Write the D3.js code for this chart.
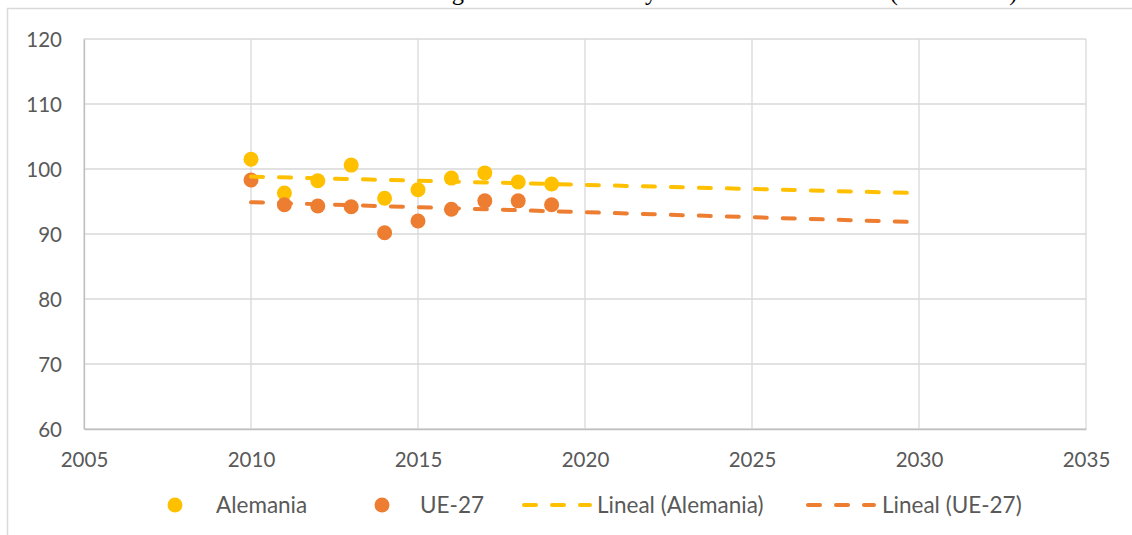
<!DOCTYPE html>
<html>
<head>
<meta charset="utf-8">
<script src="https://cdn.jsdelivr.net/npm/d3@7"></script>
<style>
    body { margin: 0; background: #fff; }
    svg { display: block; }
    text { font-family: Lato, "Open Sans", sans-serif; }
</style>
</head>
<body>
<svg id="chart"></svg>
<script>
// data
const years = [2010, 2011, 2012, 2013, 2014, 2015, 2016, 2017, 2018, 2019];
const alemania = [101.5, 96.3, 98.2, 100.6, 95.5, 96.8, 98.6, 99.4, 98.0, 97.7];
const ue27 = [98.3, 94.5, 94.3, 94.2, 90.2, 92.0, 93.8, 95.1, 95.1, 94.5];
const xTicks = [2005, 2010, 2015, 2020, 2025, 2030, 2035];
const yTicks = [60, 70, 80, 90, 100, 110, 120];
const trendEnd = 2029.7; // trend lines are extended forward to here
const seriesNames = ["Alemania", "UE-27"];
const trendNames = ["Lineal (Alemania)", "Lineal (UE-27)"];
const pageTitle = "Intensidad energética en Alemania y en el total de la UE-27 (2010 = 100)";

const config = {
    parent: "#chart",
    width: 1132,
    height: 535,
    margin: { top: 39, right: 46, bottom: 106, left: 84 },
    colors: ["#FFC000", "#ED7D31"]
};

// least squares line, same as the spreadsheet's linear trendline
function linearFit(xs, ys) {
    let mx = d3.mean(xs), my = d3.mean(ys);
    let sxy = d3.sum(xs, (x, i) => (x - mx) * (ys[i] - my));
    let sxx = d3.sum(xs, x => (x - mx) * (x - mx));
    let slope = sxy / sxx;
    return x => my + slope * (x - mx);
}

let svg = d3.select(config.parent)
    .attr("width", config.width)
    .attr("height", config.height);

let innerW = config.width - config.margin.left - config.margin.right;
let innerH = config.height - config.margin.top - config.margin.bottom;

let xScale = d3.scaleLinear()
    .domain([2005, 2035])
    .range([config.margin.left, config.margin.left + innerW]);
let yScale = d3.scaleLinear()
    .domain([60, 120])
    .range([config.margin.top + innerH, config.margin.top]);

// caption of the page above the chart, cut off by the top edge like in the original
let title = svg.append("text")
    .attr("x", 0)
    .attr("y", 0)
    .attr("fill", "#000")
    .style("font-family", "'Liberation Serif', serif")
    .attr("font-size", "22px")
    .text(pageTitle);
// fit it so the "g" and the closing ")" land where they show in the original
let gi = pageTitle.indexOf("g"), pi = pageTitle.lastIndexOf(")");
let node = title.node();
let gx0 = node.getStartPositionOfChar(gi).x;
let px0 = node.getEndPositionOfChar(pi).x;
let k = (1018 - 452) / (px0 - gx0);
title.attr("font-size", (22 * k) + "px")
    .attr("x", 452 - gx0 * k);

// chart frame (top and left edges visible)
svg.append("path")
    .attr("d", `M7.5,${config.height} V8.5 H${config.width}`)
    .attr("fill", "none")
    .attr("stroke", "#d9d9d9")
    .attr("stroke-width", 1.5);

// grid lines
let grid = svg.append("g");
grid.selectAll("line.h").data(yTicks)
    .enter().append("line")
    .attr("class", "h")
    .attr("x1", xScale(2005)).attr("x2", xScale(2035))
    .attr("y1", d => yScale(d)).attr("y2", d => yScale(d))
    .attr("stroke", "#d9d9d9").attr("stroke-width", 1.3);
grid.selectAll("line.v").data(xTicks)
    .enter().append("line")
    .attr("class", "v")
    .attr("x1", d => xScale(d)).attr("x2", d => xScale(d))
    .attr("y1", yScale(60)).attr("y2", yScale(120))
    .attr("stroke", "#d9d9d9").attr("stroke-width", 1.3);

// axes
let axisX = d3.axisBottom(xScale).tickValues(xTicks).tickFormat(d3.format("d")).tickSize(0).tickPadding(23);
let axisY = d3.axisLeft(yScale).tickValues(yTicks).tickSize(0).tickPadding(22);

let gx = svg.append("g")
    .attr("transform", `translate(0,${yScale(60)})`)
    .call(axisX);
let gy = svg.append("g")
    .attr("transform", `translate(${xScale(2005)},0)`)
    .call(axisY);
[gx, gy].forEach(g => {
    g.select(".domain").attr("stroke", "#bfbfbf").attr("stroke-width", 1.3);
    g.selectAll("text")
        .attr("fill", "#595959")
        .attr("font-size", "20.5px")
        .style("font-family", "Lato, sans-serif");
});
gy.selectAll("text").attr("dy", "0.36em");

// markers
let allSeries = [alemania, ue27];
allSeries.forEach((vals, s) => {
    svg.append("g")
        .selectAll("circle")
        .data(years.map((y, i) => ({ year: y, value: vals[i] })))
        .enter()
        .append("circle")
        .attr("cx", d => xScale(d.year))
        .attr("cy", d => yScale(d.value))
        .attr("r", 7.5)
        .attr("fill", config.colors[s]);
});

// trend lines on top of the markers
allSeries.forEach((vals, s) => {
    let fit = linearFit(years, vals);
    let ends = [years[0], trendEnd];
    svg.append("line")
        .attr("x1", xScale(ends[0]))
        .attr("y1", yScale(fit(ends[0])))
        .attr("x2", xScale(ends[1]))
        .attr("y2", yScale(fit(ends[1])))
        .attr("stroke", config.colors[s])
        .attr("stroke-width", 4)
        .attr("stroke-linecap", "round")
        .attr("stroke-dasharray", "12,16");
});

// legend
let legendY = 505;
let legendItems = [
    { label: seriesNames[0], color: config.colors[0], type: "dot", x: 175, tx: 216 },
    { label: seriesNames[1], color: config.colors[1], type: "dot", x: 382, tx: 420 },
    { label: trendNames[0], color: config.colors[0], type: "dash", x: 524, tx: 597 },
    { label: trendNames[1], color: config.colors[1], type: "dash", x: 808, tx: 882 }
];
let legend = svg.append("g").attr("class", "legend");
let items = legend.selectAll("g").data(legendItems).enter().append("g");
items.filter(d => d.type === "dot").append("circle")
    .attr("cx", d => d.x).attr("cy", legendY).attr("r", 7.5)
    .attr("fill", d => d.color);
items.filter(d => d.type === "dash").append("line")
    .attr("x1", d => d.x).attr("x2", d => d.x + 66)
    .attr("y1", legendY).attr("y2", legendY)
    .attr("stroke", d => d.color)
    .attr("stroke-width", 4)
    .attr("stroke-linecap", "round")
    .attr("stroke-dasharray", "12,16");
items.append("text")
    .attr("x", d => d.tx).attr("y", legendY)
    .attr("dy", "0.36em")
    .attr("fill", "#595959")
    .attr("font-size", "22.5px")
    .text(d => d.label);
</script>
</body>
</html>
